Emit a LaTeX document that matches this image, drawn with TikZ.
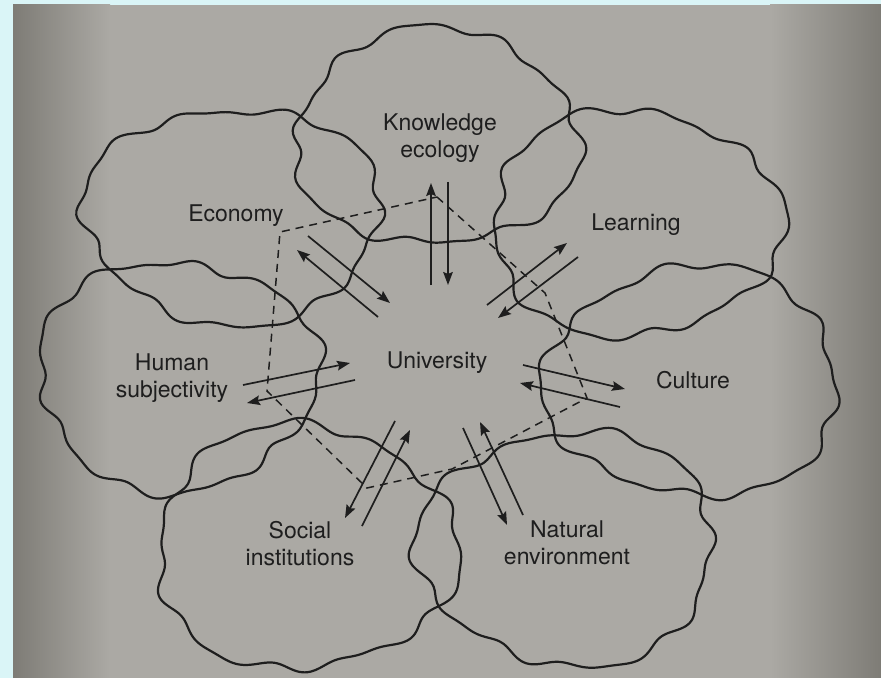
\documentclass[tikz,border=0pt]{standalone}
\usepackage{fontspec}
\setmainfont{TeX Gyre Heros}
\usetikzlibrary{arrows.meta}
\definecolor{frame}{HTML}{DAF5F7}
\definecolor{paper}{HTML}{ABA9A4}
\definecolor{paperdark}{HTML}{7E7C76}
\definecolor{ink}{HTML}{1E1E1E}
\newcommand{\wavyblob}[7]{%
  \draw[blobline] plot[smooth, domain=0:358, samples=180, variable=\t]
  ({#1+#3*(1+0.028*sin(10*\t+#5)+0.018*sin(16*\t+#6)+0.045*sin(3*\t+#7))*cos(\t)},
   {#2+#4*(1+0.028*sin(10*\t+#5)+0.018*sin(16*\t+#6)+0.045*sin(3*\t+#7))*sin(\t)}) -- cycle;}
\newcommand{\twolines}[2]{\begin{tabular}[t]{@{}c@{}}#1\\#2\end{tabular}}
\begin{document}
\begin{tikzpicture}[x=0.5pt,y=-0.5pt,
  blobline/.style={draw=ink, line width=1.1pt, line join=round},
  arrline/.style={draw=ink, line width=0.85pt, -{Stealth[length=6.5pt,width=4.8pt,inset=1pt]}},
  hept/.style={draw=ink, line width=0.75pt, dash pattern=on 4pt off 3pt},
  lbl/.style={anchor=base, inner sep=0pt, text=ink,
    font=\fontsize{11.5}{13.5}\selectfont\renewcommand{\arraystretch}{1}}]
\useasboundingbox (0,0) rectangle (881,678);
\fill[frame] (0,0) rectangle (881,678);
\fill[paper] (13,5) rectangle (881,678);
\shade[left color=paperdark, right color=paper] (13,5) rectangle (110,678);
\shade[left color=paper, right color=paperdark] (770,5) rectangle (881,678);

% blobs
\wavyblob{436}{138}{142}{108}{0}{40}{20}
\wavyblob{233}{215}{148}{108}{70}{110}{200}
\wavyblob{635}{223}{145}{113}{150}{15}{90}
\wavyblob{177}{375}{140}{115}{220}{300}{140}
\wavyblob{693}{382}{147}{115}{30}{250}{300}
\wavyblob{305}{548}{150}{122}{300}{80}{60}
\wavyblob{568}{548}{148}{117}{110}{190}{250}

% dashed heptagon
\coordinate (hT) at (437,197);
\coordinate (hR1) at (545,293);
\coordinate (hR2) at (587,398);
\coordinate (hB) at (452,469);
\coordinate (hBL) at (367,488);
\coordinate (hL) at (267,391);
\coordinate (hUL) at (280,232);
\draw[hept] (hT) -- (hR1) -- (hR2) -- (hB) -- (hBL) -- (hL) -- (hUL) -- cycle;

% labels
\node[lbl] (know) at (440,131) {\twolines{Knowledge}{ecology}};
\node[lbl] (econ) at (236,222) {Economy};
\node[lbl] (learn) at (636,231) {Learning};
\node[lbl] (human) at (172,370) {\twolines{Human}{subjectivity}};
\node[lbl] (univ) at (437,368) {University};
\node[lbl] (cult) at (693,388) {Culture};
\node[lbl] (social) at (300,538) {\twolines{Social}{institutions}};
\node[lbl] (natural) at (567,537) {\twolines{Natural}{environment}};

% arrow end points
\coordinate (kOa) at (431,285); \coordinate (kOb) at (431,183);
\coordinate (kIa) at (448,182); \coordinate (kIb) at (448,285);
\coordinate (eOa) at (378,317); \coordinate (eOb) at (297,250);
\coordinate (eIa) at (308,236); \coordinate (eIb) at (390,303);
\coordinate (lOa) at (487,305); \coordinate (lOb) at (567,243);
\coordinate (lIa) at (578,257); \coordinate (lIb) at (498,318);
\coordinate (hIa) at (243,385); \coordinate (hIb) at (350,363);
\coordinate (hOa) at (355,380); \coordinate (hOb) at (247,403);
\coordinate (cOa) at (523,365); \coordinate (cOb) at (625,389);
\coordinate (cIa) at (620,407); \coordinate (cIb) at (520,383);
\coordinate (sOa) at (395,421); \coordinate (sOb) at (345,518);
\coordinate (sIa) at (362,526); \coordinate (sIb) at (410,430);
\coordinate (nOa) at (463,428); \coordinate (nOb) at (507,525);
\coordinate (nIa) at (523,515); \coordinate (nIb) at (480,422);

\draw[arrline] (kOa) -- (kOb);
\draw[arrline] (kIa) -- (kIb);
\draw[arrline] (eOa) -- (eOb);
\draw[arrline] (eIa) -- (eIb);
\draw[arrline] (lOa) -- (lOb);
\draw[arrline] (lIa) -- (lIb);
\draw[arrline] (hIa) -- (hIb);
\draw[arrline] (hOa) -- (hOb);
\draw[arrline] (cOa) -- (cOb);
\draw[arrline] (cIa) -- (cIb);
\draw[arrline] (sOa) -- (sOb);
\draw[arrline] (sIa) -- (sIb);
\draw[arrline] (nOa) -- (nOb);
\draw[arrline] (nIa) -- (nIb);
\end{tikzpicture}
\end{document}
